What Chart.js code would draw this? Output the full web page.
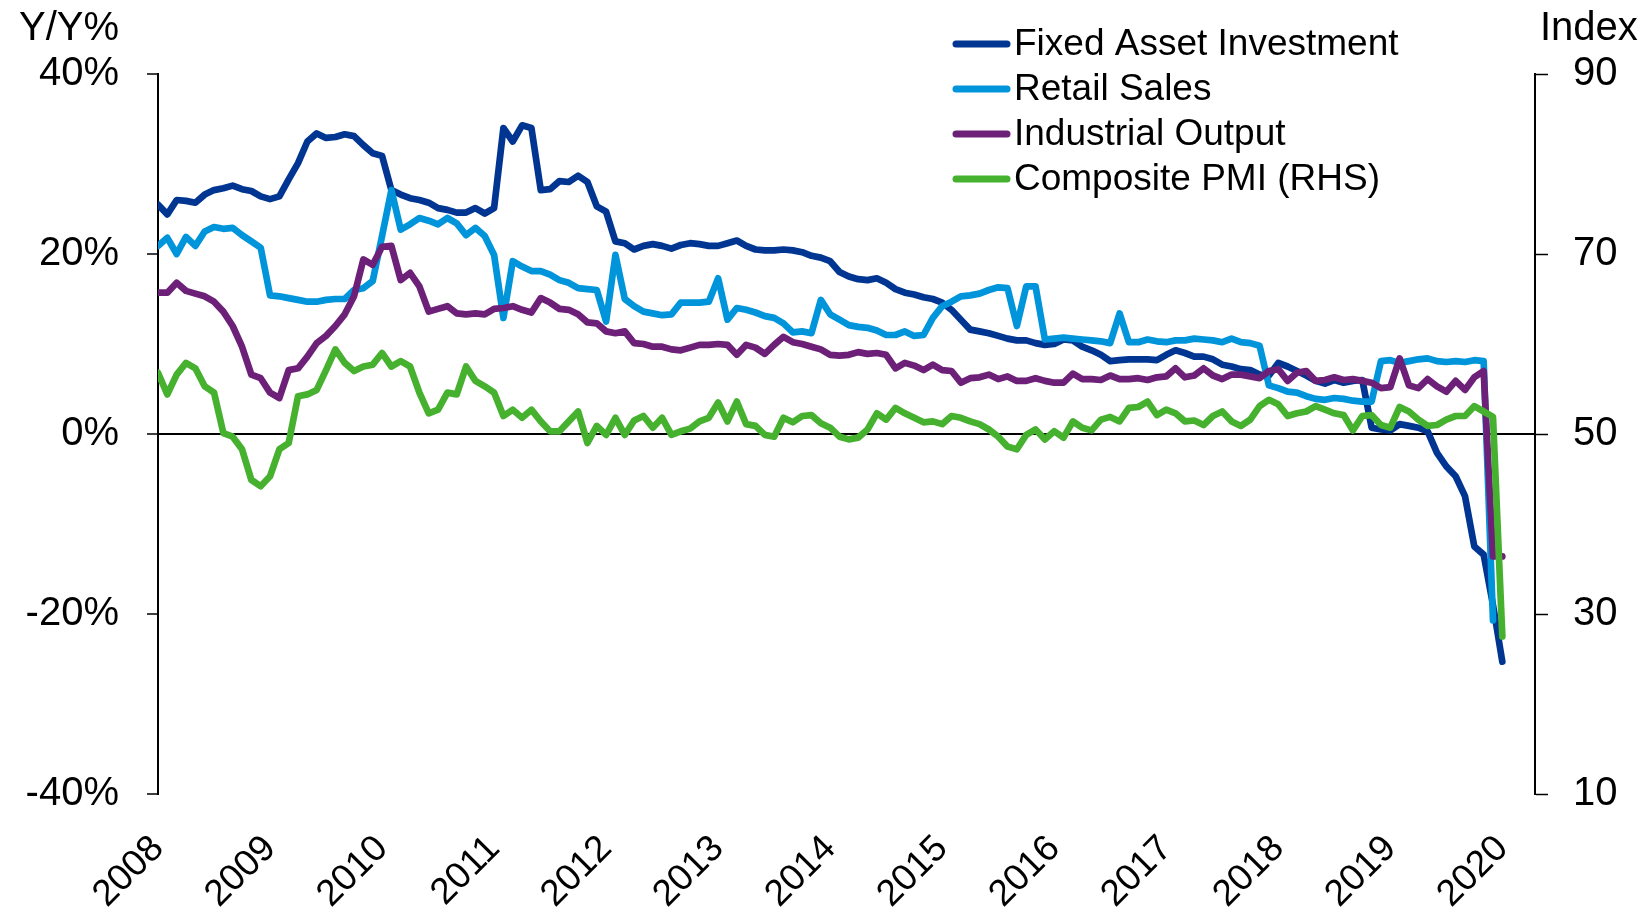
<!DOCTYPE html>
<html><head><meta charset="utf-8">
<script src="https://cdn.jsdelivr.net/npm/chart.js@4.4.1/dist/chart.umd.min.js"></script>
<style>html,body{margin:0;padding:0;background:#fff}#wrap{width:1645px;height:917px;position:relative}</style>
</head><body><div id="wrap"><canvas id="c" width="1645" height="917"></canvas></div>
<script>
const yearLabels = ['2008','2009','2010','2011','2012','2013','2014','2015','2016','2017','2018','2019','2020'];
const seriesNames = ['Fixed Asset Investment','Retail Sales','Industrial Output','Composite PMI (RHS)'];
const leftTicks = [-40,-20,0,20,40];
const rightTicks = [10,30,50,70,90];

const fai = [25.5,24.4,26.0,25.9,25.7,26.6,27.1,27.3,27.6,27.2,27.0,26.4,
26.1,26.4,28.3,30.1,32.5,33.4,32.9,33.0,33.3,33.1,32.1,31.2,
30.9,27.1,26.6,26.2,26.0,25.7,25.1,24.9,24.6,24.6,25.1,24.5,
25.1,34.0,32.5,34.3,34.0,27.1,27.2,28.1,28.0,28.7,28.0,25.3,
24.7,21.4,21.2,20.5,20.9,21.1,20.9,20.6,21.0,21.2,21.1,20.9,
20.9,21.2,21.5,20.9,20.5,20.4,20.4,20.5,20.4,20.2,19.8,19.6,
19.2,18.0,17.5,17.2,17.1,17.3,16.8,16.1,15.7,15.5,15.2,15.0,
14.6,13.8,12.7,11.6,11.4,11.2,10.9,10.6,10.4,10.4,10.1,9.9,
10.0,10.5,10.4,9.7,9.3,8.8,8.1,8.2,8.3,8.3,8.3,8.2,
8.8,9.3,9.0,8.6,8.6,8.3,7.7,7.5,7.2,7.1,6.6,6.5,
7.9,7.5,7.0,6.5,5.9,5.6,6.0,5.7,5.9,6.0,0.7,0.5,
0.4,1.1,0.9,0.7,0.3,-2.1,-3.6,-4.7,-6.9,-12.5,-13.4,-19.0,
-25.3];

const retail = [20.9,21.8,20.0,21.9,20.9,22.5,23.0,22.8,22.9,22.1,21.4,20.7,
15.4,15.3,15.1,14.9,14.7,14.7,14.9,15.0,15.0,16.0,16.2,17.0,
22.0,27.1,22.7,23.3,24.0,23.7,23.3,24.0,23.4,22.1,22.9,22.0,
19.9,12.9,19.2,18.6,18.1,18.1,17.7,17.1,16.8,16.2,16.1,16.0,
12.5,19.9,15.0,14.2,13.6,13.4,13.2,13.3,14.6,14.6,14.6,14.7,
17.3,12.7,14.0,13.8,13.5,13.1,12.9,12.3,11.3,11.4,11.2,14.9,
13.3,12.7,12.1,11.9,11.8,11.5,11.0,11.0,11.4,10.9,11.0,12.9,
14.2,14.7,15.3,15.4,15.6,16.0,16.3,16.2,12.0,16.4,16.4,10.5,
10.6,10.7,10.6,10.5,10.4,10.3,10.1,13.4,10.2,10.2,10.5,10.3,
10.2,10.4,10.4,10.6,10.5,10.4,10.2,10.6,10.2,10.1,9.8,5.4,
5.1,4.7,4.6,4.2,3.9,3.8,4.0,3.9,3.7,3.6,3.6,8.1,
8.2,7.9,8.1,8.3,8.4,8.1,8.0,8.1,8.0,8.2,8.1,-20.7];

const industrial = [15.7,15.7,16.8,15.9,15.6,15.3,14.7,13.6,12.0,9.7,6.6,6.2,
4.6,4.0,7.1,7.3,8.6,10.1,10.9,12.0,13.3,15.3,19.4,18.8,
20.8,20.9,17.1,17.9,16.4,13.6,13.9,14.2,13.4,13.3,13.4,13.3,
13.9,14.0,14.2,13.8,13.5,15.1,14.6,13.9,13.8,13.3,12.4,12.3,
11.4,11.2,11.4,10.1,10.0,9.7,9.7,9.4,9.3,9.6,9.9,9.9,
10.0,9.9,8.8,9.9,9.6,8.9,9.9,10.8,10.2,10.0,9.7,9.4,
8.8,8.7,8.8,9.1,8.9,9.0,8.8,7.3,7.9,7.6,7.1,7.7,
7.1,7.0,5.7,6.2,6.3,6.6,6.1,6.4,5.9,5.9,6.2,5.9,
5.7,5.7,6.7,6.1,6.1,6.0,6.5,6.1,6.1,6.2,6.0,6.3,
6.4,7.3,6.3,6.5,7.3,6.5,6.1,6.6,6.6,6.4,6.2,7.0,
7.2,5.9,6.8,7.0,5.9,6.0,6.3,6.0,6.1,5.9,5.7,5.1,
5.2,8.4,5.4,5.1,6.1,5.3,4.7,5.9,4.9,6.3,7.0,-13.6,
-13.6];

const pmi = [56.8,54.4,56.6,57.9,57.3,55.3,54.6,50.1,49.7,48.3,44.9,44.2,
45.3,48.3,49.0,54.2,54.4,54.9,57.1,59.4,57.9,57.0,57.5,57.7,
59.0,57.5,58.1,57.5,54.6,52.3,52.7,54.6,54.4,57.5,55.9,55.3,
54.6,52.0,52.7,51.8,52.7,51.4,50.3,50.3,51.4,52.5,49.0,50.9,
49.9,51.8,49.9,51.5,52.0,50.7,51.8,49.9,50.3,50.6,51.4,51.8,
53.5,51.4,53.6,51.1,50.9,49.9,49.7,51.8,51.3,52.0,52.1,51.2,
50.7,49.7,49.4,49.6,50.5,52.3,51.6,52.9,52.3,51.8,51.3,51.4,
51.1,52.0,51.8,51.4,51.1,50.5,49.7,48.6,48.3,49.9,50.5,49.4,
50.3,49.6,51.4,50.7,50.4,51.6,51.9,51.4,52.9,53.0,53.6,52.1,
52.7,52.3,51.4,51.5,51.0,52.0,52.5,51.4,50.9,51.6,53.1,53.8,
53.3,52.0,52.3,52.5,53.1,52.7,52.3,52.1,50.4,52.0,52.1,51.0,
50.7,53.0,52.5,51.6,50.9,51.0,51.6,52.0,52.0,53.1,52.5,51.9,
27.5];

const colors = ['#003591','#0095db','#6c2077','#46b12f'];
const FONT = '"Liberation Sans", Arial, Helvetica, sans-serif';

const toPts = arr => arr.map((v, i) => ({x: i, y: v}));

const extraText = {
  id: 'extraText',
  afterDraw(chart) {
    const ctx = chart.ctx;
    ctx.save();
    ctx.fillStyle = '#000';
    ctx.font = '40px ' + FONT;
    ctx.textBaseline = 'alphabetic';
    ctx.textAlign = 'right';
    ctx.fillText('Y/Y%', 119, 40);
    ctx.textAlign = 'left';
    ctx.fillText('Index', 1540, 40);
    ctx.font = '37px ' + FONT;
    ctx.textBaseline = 'middle';
    chart.data.datasets.forEach((ds, k) => {
      const y = 44 + k * 45;
      ctx.strokeStyle = ds.borderColor;
      ctx.lineWidth = 7;
      ctx.lineCap = 'round';
      ctx.beginPath(); ctx.moveTo(956, y); ctx.lineTo(1007, y); ctx.stroke();
      ctx.fillText(ds.label, 1014, y + 1);
    });
    ctx.restore();
  }
};

const mkDs = (label, arr, color, axis, order) => ({
  label, data: toPts(arr), borderColor: color, backgroundColor: color,
  borderWidth: 6.7, pointRadius: 0, tension: 0, fill: false,
  borderCapStyle: 'round', borderJoinStyle: 'round', yAxisID: axis, order
});

new Chart(document.getElementById('c'), {
  type: 'line',
  data: {
    datasets: [
      mkDs(seriesNames[0], fai, colors[0], 'y', 4),
      mkDs(seriesNames[1], retail, colors[1], 'y', 3),
      mkDs(seriesNames[2], industrial, colors[2], 'y', 2),
      mkDs(seriesNames[3], pmi, colors[3], 'y2', 1)
    ]
  },
  options: {
    responsive: false, animation: false, devicePixelRatio: 1,
    layout: {padding: {top: 74, left: 0, right: 0, bottom: 0}},
    plugins: {legend: {display: false}, tooltip: {enabled: false}},
    scales: {
      x: {
        type: 'linear', min: 0, max: 147.5,
        afterBuildTicks: s => { s.ticks = yearLabels.map((_, k) => ({value: k * 12})); },
        afterFit: s => { s.height = 123; },
        grid: {display: false, drawTicks: false},
        border: {display: false},
        ticks: {
          autoSkip: false, minRotation: 45, maxRotation: 45, padding: 33,
          color: '#000', font: {family: FONT, size: 37},
          callback: v => yearLabels[Math.round(v / 12)]
        }
      },
      y: {
        position: 'left', min: -40, max: 40,
        afterBuildTicks: s => { s.ticks = leftTicks.map(v => ({value: v})); },
        afterFit: s => { s.width = 158; },
        border: {display: true, color: '#000', width: 2},
        grid: {
          drawOnChartArea: true, lineWidth: 2, tickLength: 11, tickWidth: 1.5, tickColor: '#000',
          color: c => (c.tick && c.tick.value === 0) ? '#000' : 'rgba(0,0,0,0)'
        },
        ticks: {padding: 28, color: '#000', font: {family: FONT, size: 40}, callback: v => v + '%'}
      },
      y2: {
        position: 'right', min: 10, max: 90,
        afterBuildTicks: s => { s.ticks = rightTicks.map(v => ({value: v})); },
        afterFit: s => { s.width = 110; },
        border: {display: true, color: '#000', width: 2},
        grid: {drawOnChartArea: false, tickLength: 13, tickWidth: 1.5, tickColor: '#000'},
        ticks: {padding: 25, color: '#000', font: {family: FONT, size: 40}}
      }
    }
  },
  plugins: [extraText]
});
</script>
</body></html>
